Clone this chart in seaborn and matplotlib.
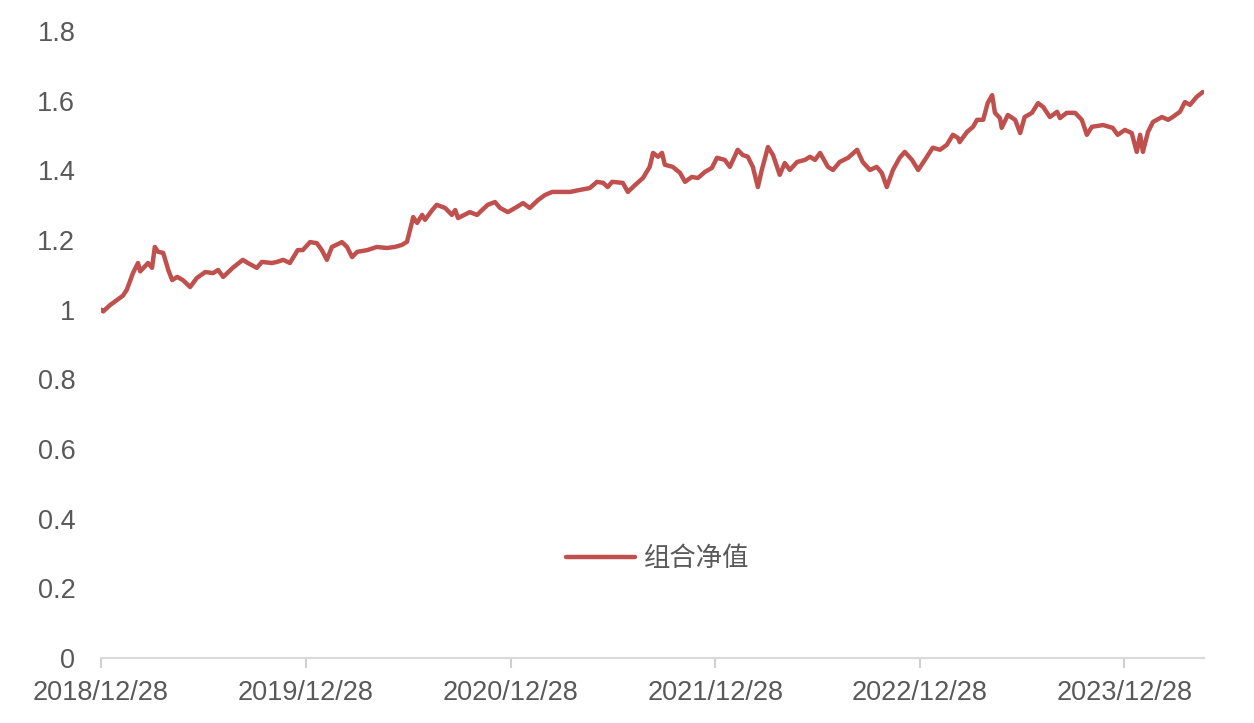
import matplotlib
matplotlib.use("Agg")
import matplotlib.pyplot as plt
import seaborn as sns
import pandas as pd

start_date = "2018-12-28"
# days elapsed since 2018/12/28 and portfolio NAV
days = [0, 4, 16, 39, 46, 57, 66, 70, 84, 91, 96, 102, 111, 120, 127, 136, 146, 159, 171, 186,
        200, 209, 218, 235, 253, 262, 278, 287, 305, 314, 325, 337, 351, 360, 373, 385, 394, 403,
        412, 430, 439, 448, 457, 475, 492, 510, 524, 537, 546, 555, 557, 564, 573, 578, 591, 599,
        614, 626, 632, 637, 658, 671, 680, 690, 703, 712, 726, 742, 753, 765, 780, 792, 805, 819,
        837, 855, 872, 885, 896, 904, 912, 931, 940, 953, 967, 979, 985, 994, 1001, 1006, 1020,
        1033, 1042, 1054, 1065, 1078, 1090, 1099, 1113, 1122, 1136, 1145, 1154, 1163, 1172, 1179,
        1190, 1199, 1211, 1220, 1229, 1242, 1256, 1265, 1274, 1283, 1292, 1297, 1306, 1318, 1333,
        1349, 1359, 1372, 1384, 1393, 1402, 1413, 1425, 1434, 1447, 1458, 1470, 1484, 1497, 1509,
        1520, 1529, 1532, 1545, 1556, 1563, 1574, 1582, 1590, 1595, 1604, 1607, 1618, 1631, 1640,
        1648, 1661, 1672, 1681, 1693, 1706, 1711, 1723, 1738, 1750, 1759, 1768, 1788, 1805, 1814,
        1827, 1839, 1848, 1854, 1859, 1868, 1877, 1893, 1904, 1912, 1925, 1934, 1943, 1955, 1966]
nav = [1.000, 0.995, 1.013, 1.040, 1.057, 1.105, 1.134, 1.110, 1.134, 1.120, 1.180, 1.166, 1.163,
       1.114, 1.085, 1.094, 1.085, 1.065, 1.091, 1.108, 1.105, 1.114, 1.094, 1.120, 1.143, 1.134,
       1.120, 1.137, 1.134, 1.137, 1.143, 1.134, 1.171, 1.171, 1.194, 1.191, 1.171, 1.143, 1.180,
       1.194, 1.180, 1.151, 1.166, 1.171, 1.180, 1.177, 1.180, 1.186, 1.195, 1.252, 1.266, 1.249,
       1.272, 1.258, 1.286, 1.301, 1.292, 1.272, 1.286, 1.263, 1.280, 1.272, 1.286, 1.301, 1.309,
       1.292, 1.280, 1.295, 1.306, 1.292, 1.315, 1.329, 1.338, 1.338, 1.338, 1.344, 1.349, 1.367,
       1.364, 1.352, 1.367, 1.364, 1.338, 1.358, 1.378, 1.410, 1.450, 1.439, 1.450, 1.416, 1.410,
       1.393, 1.367, 1.381, 1.378, 1.396, 1.407, 1.436, 1.430, 1.410, 1.459, 1.444, 1.439, 1.410,
       1.352, 1.401, 1.467, 1.444, 1.387, 1.421, 1.401, 1.424, 1.430, 1.439, 1.430, 1.450, 1.424,
       1.410, 1.401, 1.424, 1.436, 1.459, 1.424, 1.401, 1.410, 1.393, 1.352, 1.401, 1.436, 1.453,
       1.430, 1.401, 1.430, 1.465, 1.459, 1.473, 1.502, 1.493, 1.481, 1.510, 1.525, 1.545, 1.545,
       1.593, 1.616, 1.565, 1.550, 1.522, 1.559, 1.545, 1.507, 1.553, 1.565, 1.593, 1.582, 1.553,
       1.568, 1.550, 1.565, 1.565, 1.545, 1.502, 1.525, 1.530, 1.522, 1.502, 1.516, 1.507, 1.453,
       1.502, 1.453, 1.510, 1.539, 1.553, 1.545, 1.553, 1.568, 1.596, 1.588, 1.611, 1.625]
series_name = "组合净值"
x_ticks = ["2018-12-28", "2019-12-28", "2020-12-28", "2021-12-28", "2022-12-28", "2023-12-28"]
x_tick_labels = ["2018/12/28", "2019/12/28", "2020/12/28", "2021/12/28", "2022/12/28", "2023/12/28"]
y_ticks = [0, 0.2, 0.4, 0.6, 0.8, 1, 1.2, 1.4, 1.6, 1.8]
y_tick_labels = ["0", "0.2", "0.4", "0.6", "0.8", "1", "1.2", "1.4", "1.6", "1.8"]

df = pd.DataFrame({
    "date": pd.Timestamp(start_date) + pd.to_timedelta(days, unit="D"),
    "nav": nav,
    "series": series_name,
})

sns.set_style("white")
plt.rcParams["font.family"] = ["Liberation Sans", "Noto Sans CJK SC", "DejaVu Sans"]

fig = plt.figure(figsize=(12.54, 7.23), dpi=100)
ax = fig.add_axes([101 / 1254, 65 / 723, (1204 - 101) / 1254, 627 / 723])

line_color = "#C0504D"
sns.lineplot(data=df, x="date", y="nav", hue="series", palette=[line_color],
             linewidth=3.2, ax=ax)

ax.set_ylim(0, 1.8)
ax.set_xlim(pd.Timestamp(start_date), pd.Timestamp(start_date) + pd.Timedelta(days=1968))
ax.set_yticks(y_ticks)
ax.set_yticklabels(y_tick_labels)
ax.set_xticks([pd.Timestamp(t) for t in x_ticks])
ax.set_xticklabels(x_tick_labels)
ax.set_xlabel("")
ax.set_ylabel("")

for s in ["top", "right", "left"]:
    ax.spines[s].set_visible(False)
ax.spines["bottom"].set_color("#D9D9D9")
ax.spines["bottom"].set_linewidth(1.5)

label_color = "#595959"
ax.tick_params(axis="y", length=0, pad=18.5, labelsize=19.5, labelcolor=label_color)
ax.tick_params(axis="x", direction="out", bottom=True, length=7, width=1.5, color="#D0D0D0",
               pad=8.5, labelsize=19.5, labelcolor=label_color)
ax.grid(False)

leg = ax.legend(loc="center", bbox_to_anchor=(0.505, 0.158), frameon=False,
                prop={"family": ["Noto Sans CJK SC", "DejaVu Sans"], "size": 19},
                handlelength=2.6, handletextpad=0.35)
for t in leg.get_texts():
    t.set_color(label_color)

fig.savefig("out.png", dpi=100)
